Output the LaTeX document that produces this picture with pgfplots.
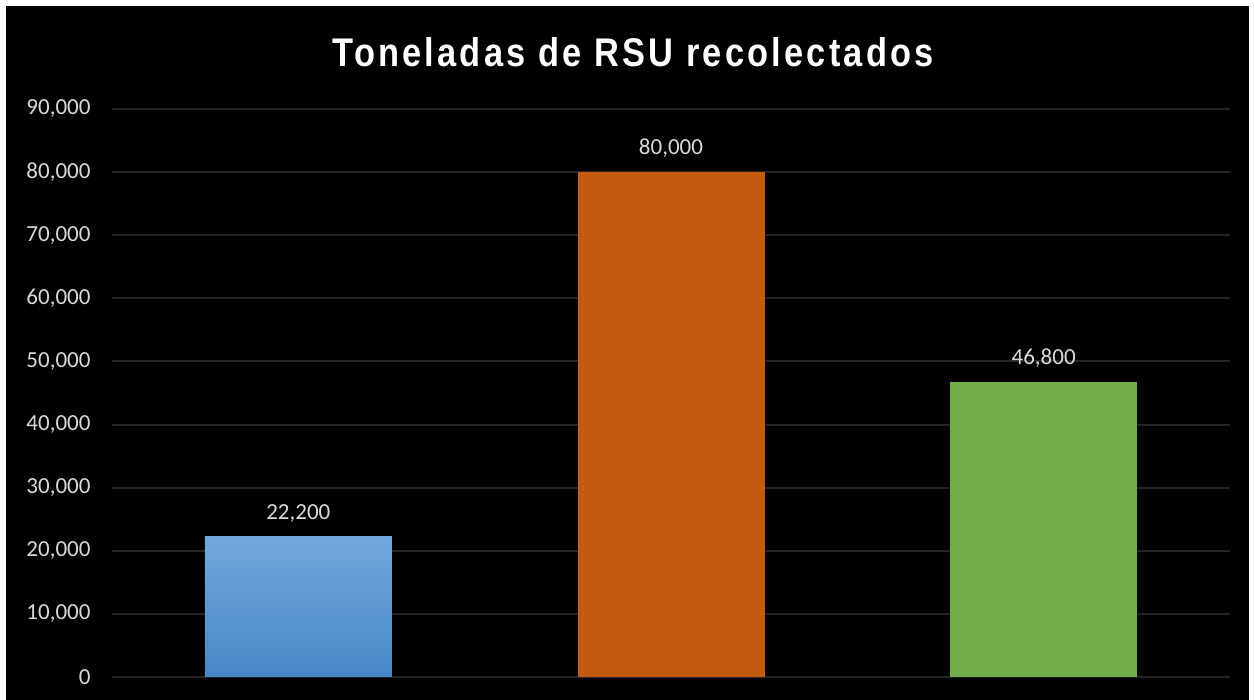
\documentclass[border=0pt]{standalone}
\usepackage{pgfplots}
\pgfplotsset{compat=1.18}
\usepackage{fontspec}
\setmainfont{Carlito}
\newfontfamily\titlefont[FakeStretch=0.86,LetterSpace=8]{Liberation Sans Bold}
\definecolor{gridc}{HTML}{242424}
\definecolor{lblc}{HTML}{D9D9D9}
\definecolor{bluetop}{HTML}{72A8DE}
\definecolor{bluebot}{HTML}{4787C7}
\definecolor{orangec}{HTML}{C55A11}
\definecolor{greenc}{HTML}{70AD47}
\begin{document}
\begin{tikzpicture}[x=1pt,y=1pt]
\fill[white] (0,0) rectangle (1254,700);
\fill[black] (6,0) rectangle (1249,694);
\node[text=white,font=\titlefont\fontsize{40}{48}\selectfont] at (633,648) {Toneladas de RSU recolectados};
\begin{axis}[
  at={(112pt,23pt)}, anchor=south west,
  scale only axis, width=1118pt, height=568pt,
  xmin=-0.5, xmax=2.5, ymin=0, ymax=90000,
  axis line style={draw=none},
  xtick=\empty,
  ytick={0,10000,...,90000},
  scaled y ticks=false,
  ymajorgrids, grid style={gridc, line width=2pt},
  major tick length=0pt,
  tick style={draw=none},
  yticklabel style={text=lblc, font=\fontsize{23}{27}\selectfont, xshift=-18pt},
  /pgf/number format/.cd, fixed, 1000 sep={,}, assume math mode=true,
  /pgfplots/.cd,
  ybar, bar width=187pt, bar shift=0pt,
  nodes near coords,
  every node near coord/.append style={text=lblc, font=\fontsize{23}{27}\selectfont, yshift=11pt},
  clip=false,
]
\addplot[draw=none, top color=bluetop, bottom color=bluebot] coordinates {(0,22200)};
\addplot[draw=none, fill=orangec] coordinates {(1,80000)};
\addplot[draw=none, fill=greenc] coordinates {(2,46800)};
\end{axis}
\end{tikzpicture}
\end{document}
